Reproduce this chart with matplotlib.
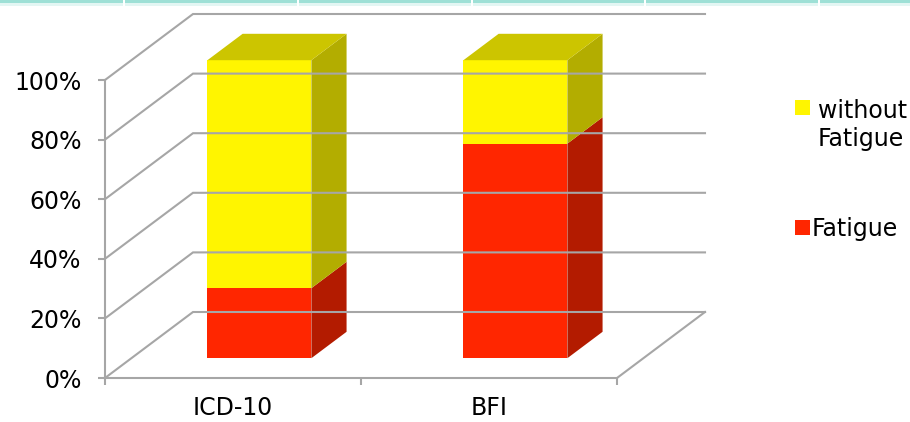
import matplotlib.pyplot as plt
from matplotlib.patches import Polygon, Rectangle

categories = ["ICD-10", "BFI"]
fatigue = [23.5, 72.0]
without_fatigue = [76.5, 28.0]
series = [("Fatigue", fatigue), ("without\nFatigue", without_fatigue)]
y_ticks = [0, 20, 40, 60, 80, 100]
y_labels = [f"{t}%" for t in y_ticks]

front_colors = {"Fatigue": "#FF2600", "without\nFatigue": "#FFF500"}
side_colors = {"Fatigue": "#B31B00", "without\nFatigue": "#B3AD00"}
top_colors = {"Fatigue": "#CC1F00", "without\nFatigue": "#CCC500"}
grid_color = "#A6A6A6"

W, H = 910, 422
fig = plt.figure(figsize=(W / 100, H / 100), dpi=100)
ax = fig.add_axes([105 / W, 44 / H, 512 / W, 298 / H])
ax.set_xlim(0, len(categories))
ax.set_ylim(0, 100)

# depth of the 3d box in data units (88 px right, 66 px up)
DX = 88 / 512 * len(categories)
DY = 66 / 298 * 100
bar_w = 0.406
d0, d1 = 0.3, 0.7


def proj(x, y, d):
    return (x + d * DX, y + d * DY)


# walls / gridlines
n = len(categories)
for t in y_ticks:
    pts = [proj(0, t, 0), proj(0, t, 1), proj(n, t, 1)]
    ax.plot([p[0] for p in pts], [p[1] for p in pts], color=grid_color,
            lw=1.5, clip_on=False, solid_joinstyle="miter")
floor = [proj(n, 0, 0), proj(n, 0, 1)]
ax.plot([p[0] for p in floor], [p[1] for p in floor], color=grid_color,
        lw=1.5, clip_on=False)

# bars
for i, cat in enumerate(categories):
    x0 = i + 0.5 - bar_w / 2
    x1 = i + 0.5 + bar_w / 2
    base = 0
    for k, (name, vals) in enumerate(series):
        v = vals[i]
        y0, y1 = base, base + v
        front = [proj(x0, y0, d0), proj(x1, y0, d0), proj(x1, y1, d0), proj(x0, y1, d0)]
        side = [proj(x1, y0, d0), proj(x1, y0, d1), proj(x1, y1, d1), proj(x1, y1, d0)]
        ax.add_patch(Polygon(side, closed=True, fc=side_colors[name], ec="none", clip_on=False))
        ax.add_patch(Polygon(front, closed=True, fc=front_colors[name], ec="none", clip_on=False))
        if k == len(series) - 1:
            top = [proj(x0, y1, d0), proj(x1, y1, d0), proj(x1, y1, d1), proj(x0, y1, d1)]
            ax.add_patch(Polygon(top, closed=True, fc=top_colors[name], ec="none", clip_on=False))
        base = y1

# axes styling
for s in ["top", "right"]:
    ax.spines[s].set_visible(False)
for s in ["left", "bottom"]:
    ax.spines[s].set_color(grid_color)
    ax.spines[s].set_linewidth(1.5)
ax.set_yticks(y_ticks)
ax.set_yticklabels(y_labels, fontsize=17)
ax.tick_params(axis="y", length=5, width=1.5, color=grid_color, pad=12)
ax.set_xticks(range(n + 1))
ax.set_xticklabels([""] * (n + 1))
ax.tick_params(axis="x", which="major", length=5, width=1.5, color=grid_color)
ax.set_xticks([i + 0.5 for i in range(n)], minor=True)
ax.set_xticklabels(categories, minor=True, fontsize=17)
ax.tick_params(axis="x", which="minor", length=0, pad=13)
ax.set_facecolor("none")

# legend
leg = [("without\nFatigue", 100, 818, 125), ("Fatigue", 220, 812, 229)]
for name, sq_top, tx, ty in leg:
    fig.patches.append(Rectangle((795 / W, 1 - (sq_top + 15) / H), 15 / W, 15 / H,
                                 transform=fig.transFigure, fc=front_colors[name], ec="none"))
    fig.text(tx / W, 1 - ty / H, name, fontsize=17, va="center", ha="left",
             linespacing=1.25)

# slide decoration strip at top
fig.patches.append(Rectangle((0, 1 - 3 / H), 1, 3 / H, transform=fig.transFigure,
                             fc="#9EE0D6", ec="none"))
fig.patches.append(Rectangle((0, 1 - 6 / H), 1, 3 / H, transform=fig.transFigure,
                             fc="#E3F6F3", ec="none"))
for sx in [123, 297, 471, 644, 818]:
    fig.patches.append(Rectangle((sx / W, 1 - 6 / H), 2 / W, 6 / H,
                                 transform=fig.transFigure, fc="white", ec="none"))

fig.savefig("out.png", dpi=100)
